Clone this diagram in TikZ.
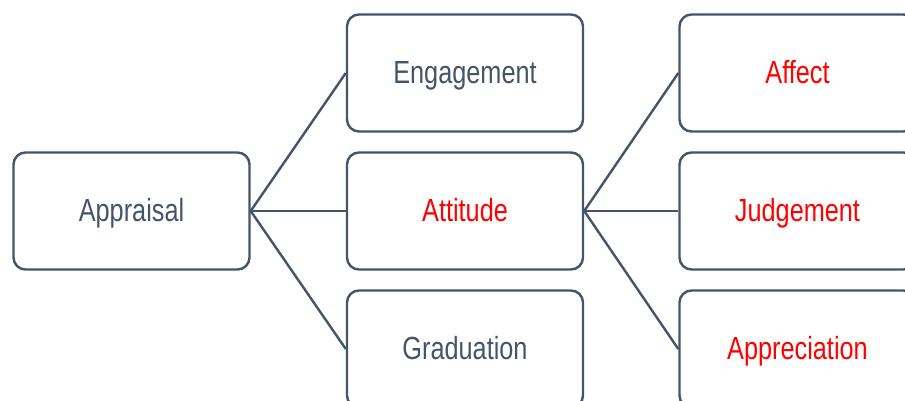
\documentclass[tikz,border=0pt]{standalone}
\usepackage{fontspec}
\setmainfont[FakeStretch=0.79]{Liberation Sans}
\definecolor{slate}{HTML}{44546A}
\definecolor{hot}{HTML}{FF0000}
\begin{document}
\begin{tikzpicture}[x=1pt,y=-1pt,
    box/.style={draw=slate,line width=2.4pt,rounded corners=12pt,
      minimum width=236pt,minimum height=117pt,inner sep=0pt,
      text height=24pt,text depth=4pt,
      text=slate,font=\fontsize{32}{38}\selectfont},
    red/.style={text=hot}]
      \useasboundingbox (0,0) rectangle (905,400);
      \clip (0,0) rectangle (905,400);
      \draw
        (131.5,211) node[box] (appraisal){Appraisal}
        (465,73) node[box] (engagement){Engagement}
        (465,211) node[box,red] (attitude){Attitude}
        (465,349) node[box] (graduation){Graduation}
        (797.5,73) node[box,red] (affect){Affect}
        (797.5,211) node[box,red] (judgement){Judgement}
        (797.5,349) node[box,red] (appreciation){Appreciation};
      \begin{scope}[-,draw=slate,line width=2.4pt]
        \draw (appraisal.east) to (engagement.west);
        \draw (appraisal.east) to (attitude.west);
        \draw (appraisal.east) to (graduation.west);
        \draw (attitude.east) to (affect.west);
        \draw (attitude.east) to (judgement.west);
        \draw (attitude.east) to (appreciation.west);
      \end{scope}
    \end{tikzpicture}
\end{document}
